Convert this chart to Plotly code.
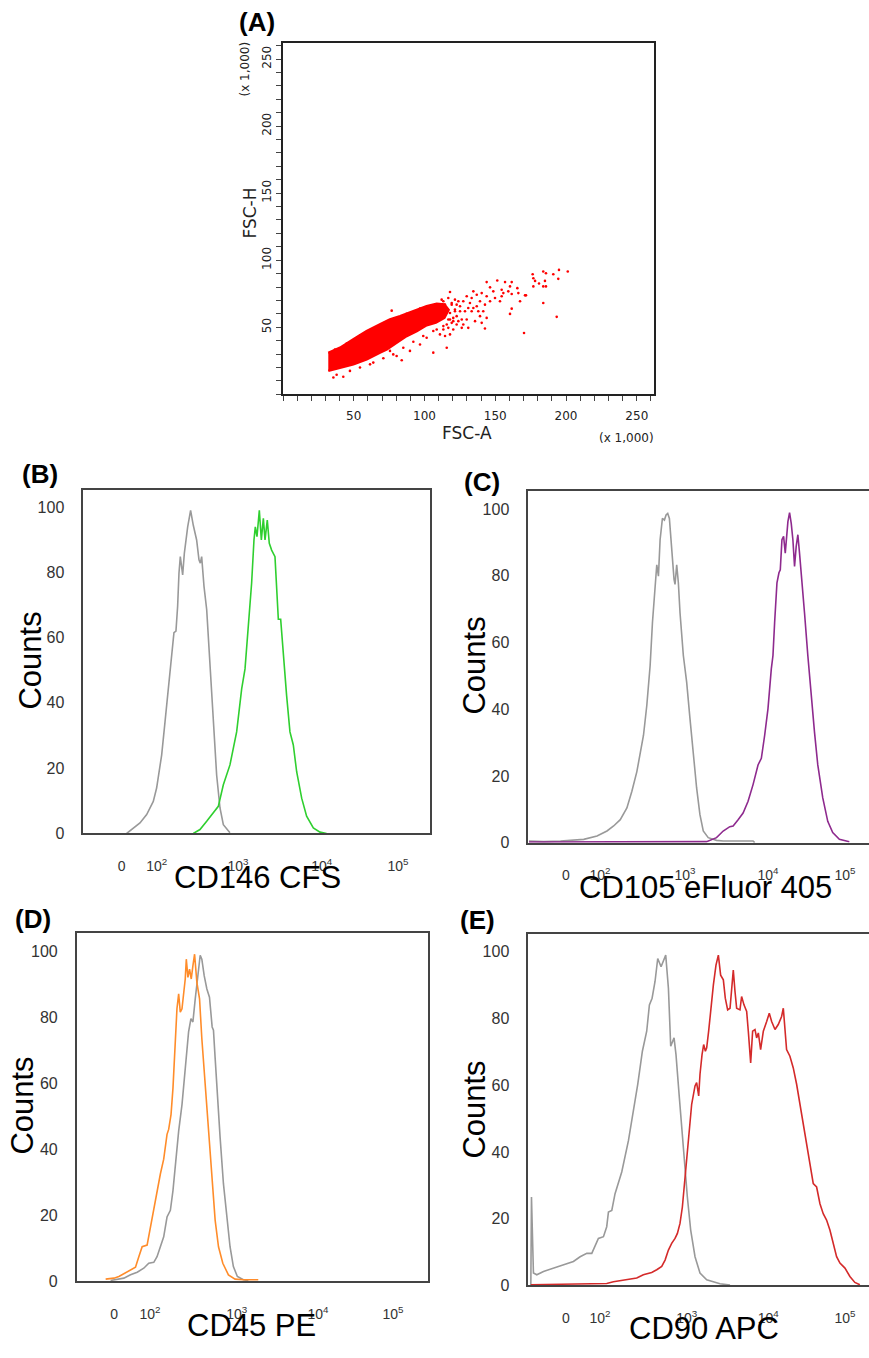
import plotly.graph_objects as go

W, H = 869, 1358

# ---------------- Panel A: FSC-A vs FSC-H (x 1,000) ----------------
# dense core outline
a_core_fsc_a = [32.0, 40.3, 49.7, 59.1, 68.5, 75.6, 82.7, 92.1, 101.5, 108.6, 114.0, 117.0,
                114.0, 108.0, 101.5, 94.5, 87.4, 80.3, 73.3, 68.5, 59.1, 49.7, 40.3, 32.0]
a_core_fsc_h = [31.0, 34.8, 41.0, 47.2, 52.1, 55.8, 58.3, 62.0, 65.7, 67.5, 67.0, 63.0,
                57.0, 53.5, 51.5, 47.2, 43.5, 38.5, 33.5, 31.1, 26.1, 22.4, 20.0, 17.5]
# sparse events
a_pts_fsc_a = [35.6, 42.6, 76.8, 80.3, 83.9, 75.6, 63.8, 89.7, 96.8, 106.2, 115.7, 101.5, 110.9,
               118.0, 120.3, 116.8, 108.6,
               143.9, 151.4, 156.9, 161.6, 160.4, 146.3, 148.6, 154.5, 155.7, 159.2, 161.6, 165.6,
               166.3, 171.0, 167.5, 154.5, 149.8, 143.9, 140.4, 136.9, 134.5, 133.3, 129.8, 139.2,
               142.7, 146.3, 153.3, 136.9, 133.3, 141.5, 139.2, 135.7, 129.8, 127.4, 142.7, 130.9,
               161.6, 160.4, 176.4, 176.9, 178.1, 180.9, 176.9, 183.9, 185.8, 191.0, 195.0, 201.2,
               194.5, 185.1, 185.8, 183.9, 183.9, 193.4, 170.3, 171.7, 113.3, 122.7, 125.1, 120.3,
               115.7, 122.7, 118.0, 113.3, 126.3,
               112.1, 114.5, 116.8, 119.2, 121.5, 123.9, 115.7, 118.0, 121.5, 113.3, 116.8, 122.7,
               125.1, 127.4, 128.6, 126.3, 120.3, 114.5, 123.9, 119.2, 130.9, 132.1, 134.5, 138.0,
               140.4, 143.9,
               36.7, 45.0, 54.4, 63.8, 73.3, 87.4, 96.8, 37.9, 47.3, 54.4, 61.5, 70.9,
               77.9, 85.0, 92.1, 99.1, 106.2, 113.3, 110.9, 119.2, 121.5, 103.9, 113.3, 118.0]
a_pts_fsc_h = [12.6, 13.1, 62.4, 28.6, 25.4, 32.4, 23.7, 32.4, 37.2, 31.1, 34.8, 42.2, 44.7,
               76.3, 54.6, 49.6, 48.4,
               83.7, 84.9, 83.7, 83.7, 80.5, 79.8, 76.8, 78.0, 75.5, 76.8, 74.8, 79.2,
               75.5, 73.8, 69.4, 73.1, 71.8, 73.1, 75.5, 74.3, 76.8, 71.8, 73.1, 69.4,
               66.9, 69.4, 69.4, 65.7, 62.0, 62.0, 58.3, 54.6, 55.8, 52.1, 49.1, 49.6,
               63.9, 60.0, 89.6, 86.6, 84.6, 82.7, 80.5, 91.6, 90.3, 89.6, 92.8, 91.6,
               86.1, 84.6, 80.5, 80.5, 68.1, 57.8, 45.7, 73.8, 69.4, 66.9, 62.0, 57.0,
               52.1, 52.1, 44.7, 48.4, 55.8,
               70.6, 66.9, 71.8, 68.1, 70.6, 69.4, 63.2, 60.7, 62.0, 59.5, 55.8, 58.3,
               65.7, 69.4, 62.0, 49.6, 48.4, 43.5, 54.6, 53.3, 64.4, 68.1, 64.4, 62.0,
               53.3, 57.0,
               33.5, 37.8, 43.9, 49.1, 54.1, 60.0, 63.9, 14.6, 17.5, 20.0, 22.4, 26.9,
               29.8, 34.8, 39.2, 43.5, 47.2, 50.9, 64.4, 66.9, 63.2, 58.3, 59.5, 55.8]
a_major_ticks = [50, 100, 150, 200, 250]

# ---------------- Histograms (x = log10 display units, y = % of max) ----------------
hist_tick_text = ["0", "10<sup>2</sup>", "10<sup>3</sup>", "10<sup>4</sup>", "10<sup>5</sup>"]
count_ticks = [0, 20, 40, 60, 80, 100]

# (B) CD146 CFS
b_tick_vals = [1.611, 2.029, 3, 4, 4.912]
b_gray_x = [1.670, 1.750, 1.829, 1.909, 1.988, 2.028, 2.088, 2.128, 2.168, 2.207, 2.235, 2.259,
            2.279, 2.295, 2.311, 2.339, 2.359, 2.399, 2.434, 2.466, 2.506, 2.534, 2.550, 2.566,
            2.594, 2.626, 2.665, 2.705, 2.745, 2.785, 2.825, 2.904]
b_gray_y = [0, 1.7, 3.2, 5.8, 9.8, 13.9, 24.0, 34.1, 44.3, 54.4, 61.5, 62.0,
            69.6, 79.7, 84.8, 79.2, 85.8, 93.9, 99.0, 94.4, 89.9, 83.8, 82.8, 84.8,
            75.7, 68.6, 52.4, 34.1, 17.9, 7.8, 2.7, 0.2]
b_green_x = [2.466, 2.546, 2.626, 2.705, 2.765, 2.825, 2.904, 2.984, 3.044, 3.084, 3.123, 3.163,
             3.191, 3.207, 3.227, 3.255, 3.279, 3.303, 3.323, 3.350, 3.374, 3.402, 3.442, 3.462,
             3.482, 3.510, 3.542, 3.581, 3.621, 3.661, 3.701, 3.761, 3.820, 3.900, 3.980, 4.059]
b_green_y = [0, 1.2, 3.7, 6.3, 8.3, 14.9, 21.0, 31.1, 44.3, 50.4, 62.5, 76.7,
             89.9, 93.9, 90.9, 99.0, 89.9, 96.5, 89.9, 96.0, 88.9, 86.8, 84.8, 76.7,
             65.6, 65.6, 54.4, 42.2, 31.1, 27.1, 18.9, 10.8, 5.3, 1.7, 0.4, 0]

# (C) CD105 eFluor 405
c_tick_vals = [1.566, 1.976, 3, 4, 4.928]
c_gray_x = [1.12, 1.30, 1.50, 1.78, 1.94, 2.06, 2.14, 2.22, 2.30, 2.36, 2.42, 2.46, 2.50, 2.54,
            2.58, 2.608, 2.64, 2.66, 2.68, 2.70, 2.728, 2.752, 2.772, 2.792, 2.812, 2.828, 2.848,
            2.868, 2.88, 2.90, 2.92, 2.94, 2.98, 3.02, 3.06, 3.10, 3.14, 3.18, 3.22, 3.28, 3.38,
            3.46, 3.82, 3.84]
c_gray_y = [0.5, 0.3, 0.5, 1.0, 2.0, 3.5, 5.0, 6.9, 10.4, 15.4, 21.3, 27.3, 32.2, 41.2,
            53.1, 66.0, 77.9, 83.3, 79.9, 90.8, 97.2, 96.7, 98.2, 98.7, 97.2, 91.8, 85.8,
            78.9, 77.4, 83.3, 77.9, 68.9, 56.1, 48.1, 37.2, 26.3, 16.4, 8.4, 3.5, 1.5, 0.7,
            0.5, 0.5, 0]
c_purple_x = [1.12, 3.26, 3.38, 3.46, 3.54, 3.58, 3.64, 3.70, 3.76, 3.82, 3.88, 3.92, 3.96, 4.00,
              4.04, 4.06, 4.08, 4.108, 4.132, 4.148, 4.168, 4.188, 4.208, 4.22, 4.24, 4.26, 4.28,
              4.30, 4.32, 4.34, 4.36, 4.38, 4.40, 4.44, 4.48, 4.52, 4.56, 4.60, 4.66, 4.72, 4.78,
              4.86, 4.98]
c_purple_y = [0.2, 0.3, 1.5, 3.5, 4.8, 5.0, 6.9, 8.9, 12.4, 17.4, 23.3, 25.3, 32.2, 40.2,
              52.1, 56.1, 66.0, 77.9, 80.9, 81.8, 90.8, 91.8, 86.8, 89.8, 96.2, 98.9, 95.7,
              90.8, 82.8, 88.8, 92.3, 86.8, 79.9, 68.9, 56.1, 44.1, 33.2, 23.3, 13.4, 6.4, 3.0,
              1.0, 0.3]

# (D) CD45 PE
d_tick_vals = [1.494, 1.934, 3, 4, 4.922]
d_orange_x = [1.388, 1.490, 1.551, 1.612, 1.694, 1.755, 1.796, 1.837, 1.898, 1.939, 1.980, 2.020,
              2.061, 2.102, 2.143, 2.163, 2.192, 2.216, 2.245, 2.265, 2.286, 2.306, 2.327, 2.347,
              2.367, 2.380, 2.400, 2.420, 2.441, 2.461, 2.482, 2.510, 2.543, 2.571, 2.600, 2.633,
              2.665, 2.698, 2.735, 2.776, 2.829, 2.898, 2.980, 3.082, 3.265]
d_orange_y = [0.7, 1.0, 1.5, 2.3, 3.5, 4.3, 7.5, 10.5, 11.0, 16.5, 22.5, 27.5,
              32.5, 37.0, 44.5, 46.0, 50.5, 58.5, 70.5, 82.5, 87.0, 81.5, 82.5, 86.5,
              91.5, 97.5, 92.0, 94.5, 91.5, 95.5, 99.0, 90.5, 85.5, 73.5, 63.5, 53.5,
              40.5, 28.5, 18.5, 10.5, 5.5, 2.0, 0.7, 0.5, 0.5]
d_gray_x = [1.449, 1.612, 1.694, 1.776, 1.857, 1.918, 1.980, 2.020, 2.061, 2.102, 2.143, 2.184,
            2.216, 2.245, 2.286, 2.327, 2.367, 2.408, 2.437, 2.461, 2.490, 2.518, 2.551, 2.571,
            2.600, 2.633, 2.665, 2.698, 2.714, 2.735, 2.763, 2.796, 2.837, 2.878, 2.918, 2.959,
            3.008, 3.082, 3.143]
d_gray_y = [0.3, 1.0, 2.0, 2.8, 4.0, 5.5, 5.8, 7.5, 10.5, 13.5, 19.5, 21.5,
            27.5, 35.5, 45.5, 53.5, 65.5, 75.5, 79.5, 78.5, 85.5, 91.5, 98.7, 97.5,
            92.5, 88.5, 86.0, 77.0, 76.0, 67.5, 55.5, 43.5, 29.5, 19.5, 10.5, 4.5,
            1.5, 0.5, 0.2]

# (E) CD90 APC
e_tick_vals = [1.521, 1.938, 3, 4, 4.94]
e_gray_x = [1.090, 1.098, 1.122, 1.163, 1.245, 1.367, 1.490, 1.612, 1.694, 1.776, 1.837, 1.878,
            1.918, 1.980, 2.020, 2.041, 2.082, 2.122, 2.204, 2.286, 2.347, 2.400, 2.457, 2.482,
            2.510, 2.543, 2.576, 2.612, 2.645, 2.686, 2.714, 2.743, 2.776, 2.804, 2.845, 2.869,
            2.910, 2.943, 2.971, 3.008, 3.049, 3.102, 3.163, 3.245, 3.408, 3.531]
e_gray_y = [0, 26.5, 3.7, 3.2, 4.2, 5.2, 6.2, 7.2, 8.6, 9.6, 9.6, 12.1,
            14.1, 14.6, 17.6, 22.0, 22.5, 27.5, 34.0, 43.4, 52.3, 60.3, 70.2, 73.2,
            76.2, 84.1, 86.1, 91.1, 98.0, 95.5, 97.5, 99.0, 89.1, 71.7, 74.2, 69.2,
            56.3, 46.4, 36.4, 26.5, 16.6, 8.6, 3.7, 1.7, 0.5, 0.1]
e_red_x = [1.090, 2.020, 2.102, 2.265, 2.388, 2.469, 2.571, 2.633, 2.694, 2.735, 2.776, 2.816,
           2.857, 2.886, 2.918, 2.947, 2.971, 3.000, 3.033, 3.061, 3.102, 3.122, 3.147, 3.163,
           3.188, 3.208, 3.229, 3.245, 3.269, 3.294, 3.327, 3.359, 3.388, 3.416, 3.449, 3.473,
           3.502, 3.531, 3.551, 3.571, 3.592, 3.612, 3.653, 3.673, 3.702, 3.735, 3.755, 3.784,
           3.808, 3.837, 3.857, 3.878, 3.906, 3.939, 3.980, 4.012, 4.041, 4.082, 4.122, 4.163,
           4.184, 4.224, 4.265, 4.306, 4.347, 4.388, 4.429, 4.469, 4.510, 4.551, 4.592, 4.633,
           4.673, 4.714, 4.755, 4.796, 4.837, 4.878, 4.939, 5.000, 5.061, 5.122]
e_red_y = [0.2, 0.6, 1.1, 1.7, 2.2, 3.2, 3.9, 4.7, 5.7, 7.6, 10.6, 12.6,
           14.1, 15.6, 18.6, 23.5, 30.5, 37.4, 46.4, 54.3, 59.8, 60.8, 56.8, 63.3,
           69.2, 72.2, 70.2, 71.2, 76.2, 83.1, 90.1, 96.0, 99.0, 93.0, 91.6, 86.1,
           82.6, 83.1, 89.1, 94.5, 88.1, 83.1, 82.6, 86.6, 84.1, 82.1, 76.2, 66.7,
           76.2, 76.7, 74.2, 75.7, 70.7, 76.2, 79.1, 81.6, 79.1, 76.7, 78.2, 80.6,
           83.1, 70.7, 68.7, 65.2, 60.3, 54.3, 48.4, 42.4, 36.4, 30.5, 29.5, 24.5,
           21.5, 19.6, 16.6, 12.6, 8.6, 6.7, 5.2, 2.7, 0.9, 0.2]

# ---------------- styling ----------------
GRAY = "#999999"
GREEN = "#2fcf2f"
PURPLE = "#8e2a8e"
ORANGE = "#ff8c2a"
RED = "#d42a2a"
SCAT_RED = "#ff0000"
AX = "#444444"
ARIAL = "Liberation Sans, Arial, sans-serif"
TAHOMA = "DejaVu Sans, Verdana, sans-serif"


def fx(p):
    return p / W


def fy(p):
    return 1 - p / H


fig = go.Figure()

# Panel A traces
fig.add_trace(go.Scatter(x=a_core_fsc_a, y=a_core_fsc_h, mode="lines", fill="toself",
                         fillcolor=SCAT_RED, line=dict(color=SCAT_RED, width=2.5),
                         xaxis="x", yaxis="y", showlegend=False, hoverinfo="skip"))
fig.add_trace(go.Scatter(x=a_pts_fsc_a, y=a_pts_fsc_h, mode="markers",
                         marker=dict(color=SCAT_RED, size=2.6, line=dict(width=0)),
                         xaxis="x", yaxis="y", showlegend=False))

hists = [
    ("x2", "y2", [(b_gray_x, b_gray_y, GRAY), (b_green_x, b_green_y, GREEN)]),
    ("x3", "y3", [(c_gray_x, c_gray_y, GRAY), (c_purple_x, c_purple_y, PURPLE)]),
    ("x4", "y4", [(d_gray_x, d_gray_y, GRAY), (d_orange_x, d_orange_y, ORANGE)]),
    ("x5", "y5", [(e_gray_x, e_gray_y, GRAY), (e_red_x, e_red_y, RED)]),
]
for xa, ya, series in hists:
    for xs, ys, col in series:
        fig.add_trace(go.Scatter(x=xs, y=ys, mode="lines", line=dict(color=col, width=1.6),
                                 xaxis=xa, yaxis=ya, showlegend=False))

layout = dict(
    width=W, height=H, margin=dict(l=0, r=0, t=0, b=0),
    paper_bgcolor="white", plot_bgcolor="white", showlegend=False,
)

a_minor = dict(ticks="outside", ticklen=5, tickcolor="#444", tickwidth=1, dtick=10, tick0=0,
               showgrid=False)
# Panel A axes
layout["xaxis"] = dict(domain=[fx(283), fx(654)], range=[0, 262.144], anchor="y",
                       showline=True, linecolor="#222", linewidth=1.5, mirror=True,
                       showgrid=False, zeroline=False, ticks="outside", ticklen=5,
                       tickcolor="#444", tickwidth=1, tickvals=a_major_ticks, minor=a_minor,
                       ticklabelstandoff=4,
                       tickfont=dict(family=TAHOMA, size=12, color="#222"))
layout["yaxis"] = dict(domain=[fy(397), fy(43)], range=[0, 262.144], anchor="x",
                       showline=True, linecolor="#222", linewidth=1.5, mirror=True,
                       showgrid=False, zeroline=False, ticks="outside", ticklen=5,
                       tickcolor="#444", tickwidth=1, tickvals=a_major_ticks, minor=a_minor,
                       tickangle=-90,
                       tickfont=dict(family=TAHOMA, size=12, color="#222"))

hist_geo = {
    # name: (left, right, top, bottom, xrange, ymax, tickvals, right_border)
    "2": (83.3, 430, 493.3, 839, [1.152, 5.294], 105.2, b_tick_vals, True),
    "3": (528.3, W, 494.3, 848.3, [1.112, 5.217], 105.4, c_tick_vals, False),
    "4": (76.7, 427.7, 939.3, 1290, [1.032, 5.349], 105.4, d_tick_vals, True),
    "5": (528.3, W, 940.7, 1294, [1.059, 5.234], 105.2, e_tick_vals, False),
}
for k, (l, r, t, b, xr, ymax, tv, rb) in hist_geo.items():
    layout["xaxis" + k] = dict(domain=[fx(l), fx(r)], range=xr, anchor="y" + k,
                               showline=True, linecolor=AX, linewidth=1.6, mirror=True,
                               showgrid=False, zeroline=False, ticks="",
                               tickvals=tv, ticktext=hist_tick_text, ticklabelstandoff=19,
                               tickfont=dict(family=ARIAL, size=14, color="#333"))
    layout["yaxis" + k] = dict(domain=[fy(b), fy(t)], range=[0, ymax], anchor="x" + k,
                               showline=True, linecolor=AX, linewidth=1.6, mirror=rb,
                               showgrid=False, zeroline=False, ticks="",
                               tickvals=count_ticks, ticklabelstandoff=14,
                               tickfont=dict(family=ARIAL, size=16, color="#333"))

ann = []


def add_text(txt, x, y, size, family=ARIAL, bold=False, angle=0, color="black"):
    ann.append(dict(text=("<b>%s</b>" % txt) if bold else txt, x=fx(x), y=fy(y),
                    xref="paper", yref="paper", xanchor="center", yanchor="middle",
                    showarrow=False, textangle=angle,
                    font=dict(family=family, size=size, color=color)))


# panel labels
add_text("(A)", 257, 22, 26, bold=True)
add_text("(B)", 40, 477, 26, bold=True)
add_text("(C)", 482, 485, 26, bold=True)
add_text("(D)", 33, 925, 26, bold=True)
add_text("(E)", 478, 926, 26, bold=True)

# Panel A titles
add_text("FSC-A", 467, 436, 17, family=TAHOMA, color="#222")
add_text("FSC-H", 250, 215, 17, family=TAHOMA, angle=-90, color="#222")
add_text("(x 1,000)", 626, 441, 12, family=TAHOMA, color="#222")
add_text("(x 1,000)", 245, 70, 12, family=TAHOMA, angle=-90, color="#222")

# histogram titles
add_text("Counts", 31, 665, 31, angle=-90)
add_text("CD146 CFS", 257, 883, 31)
add_text("Counts", 475, 670, 31, angle=-90)
add_text("CD105 eFluor 405", 705, 893, 31)
add_text("Counts", 23, 1113, 31, angle=-90)
add_text("CD45 PE", 251, 1334, 31)
add_text("Counts", 475, 1117, 31, angle=-90)
add_text("CD90 APC", 704, 1337, 31)

layout["annotations"] = ann
fig.update_layout(**layout)
fig.write_html("out.html", config={"displayModeBar": False},
               post_script="document.body.style.margin='0';document.body.style.overflow='hidden';")
